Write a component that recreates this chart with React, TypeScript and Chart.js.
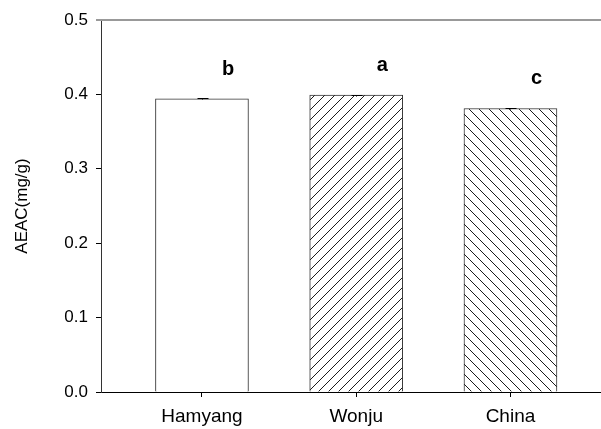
import React, { useEffect, useRef } from 'react';
import { Chart, registerables } from 'chart.js';

Chart.register(...registerables);

const categories = ['Hamyang', 'Wonju', 'China'];
const values = [0.394, 0.399, 0.381];
const errors = [0.0008, 0.0006, 0.0006];
const letters = ['b', 'a', 'c'];
const yTickValues = [0, 0.1, 0.2, 0.3, 0.4, 0.5];
const yTitle = 'AEAC(mg/g)';

const FONT = '"Liberation Sans", Arial, sans-serif';

function makeHatch(ctx: CanvasRenderingContext2D, dir: number): CanvasPattern | string {
  const s = 10;
  const c = document.createElement('canvas');
  c.width = s;
  c.height = s;
  const g = c.getContext('2d');
  if (!g) return '#fff';
  g.fillStyle = '#fff';
  g.fillRect(0, 0, s, s);
  g.strokeStyle = '#1a1a1a';
  g.lineWidth = 1;
  g.beginPath();
  if (dir === 1) {
    g.moveTo(-1, s + 1);
    g.lineTo(s + 1, -1);
    g.moveTo(-1, 1);
    g.lineTo(1, -1);
    g.moveTo(s - 1, s + 1);
    g.lineTo(s + 1, s - 1);
  } else {
    g.moveTo(-1, -1);
    g.lineTo(s + 1, s + 1);
    g.moveTo(s - 1, -1);
    g.lineTo(s + 1, 1);
    g.moveTo(-1, s - 1);
    g.lineTo(1, s + 1);
  }
  g.stroke();
  return ctx.createPattern(c, 'repeat') || '#fff';
}

const overlayPlugin = {
  id: 'overlay',
  afterDatasetsDraw(chart: any) {
    const { ctx, chartArea, scales } = chart;
    const x = scales.x;
    const y = scales.y;
    ctx.save();
    // error bars
    ctx.strokeStyle = '#000';
    ctx.lineWidth = 1;
    values.forEach((v, i) => {
      const px = Math.round(x.getPixelForValue(i + 1)) + 0.5;
      const top = Math.round(y.getPixelForValue(v + errors[i])) + 0.5;
      const bot = Math.round(y.getPixelForValue(v - errors[i])) + 0.5;
      ctx.beginPath();
      ctx.moveTo(px, top);
      ctx.lineTo(px, bot);
      ctx.moveTo(px - 5, top);
      ctx.lineTo(px + 6, top);
      ctx.stroke();
    });
    // significance letters
    ctx.font = 'bold 20px ' + FONT;
    ctx.fillStyle = '#000';
    ctx.textAlign = 'center';
    ctx.textBaseline = 'middle';
    letters.forEach((l, i) => {
      ctx.fillText(l, x.getPixelForValue(i + 1 + 0.17), y.getPixelForValue(values[i] + 0.04));
    });
    // top frame line
    ctx.strokeStyle = '#999';
    ctx.lineWidth = 2;
    ctx.beginPath();
    ctx.moveTo(chartArea.left - 5, chartArea.top);
    ctx.lineTo(chartArea.right, chartArea.top);
    ctx.stroke();
    ctx.restore();
  },
};

export default function App() {
  const ref = useRef<HTMLCanvasElement | null>(null);

  useEffect(() => {
    const canvas = ref.current;
    if (!canvas) return;
    const ctx = canvas.getContext('2d');
    if (!ctx) return;
    const fills = ['#ffffff', makeHatch(ctx, 1), makeHatch(ctx, -1)];

    const chart = new Chart(canvas, {
      type: 'bar',
      data: {
        datasets: [
          {
            data: categories.map((_, i) => ({ x: i + 1, y: values[i] })),
            backgroundColor: fills as any,
            borderColor: '#333',
            borderWidth: 1,
            barThickness: 93,
          },
        ],
      },
      options: {
        animation: false,
        responsive: false,
        maintainAspectRatio: false,
        layout: { padding: { top: 20, right: 0, left: 0, bottom: 0 } },
        plugins: {
          legend: { display: false },
          tooltip: { enabled: false },
        },
        scales: {
          x: {
            type: 'linear',
            offset: false,
            min: 0.3454,
            max: 3.587,
            afterBuildTicks: (s: any) => {
              s.ticks = categories.map((_, i) => ({ value: i + 1 }));
            },
            afterFit: (s: any) => {
              s.height = 37;
            },
            grid: {
              offset: false,
              drawOnChartArea: false,
              drawTicks: true,
              tickLength: 5,
              color: '#000',
              tickColor: '#000',
            },
            border: { display: true, color: '#000', width: 1 },
            ticks: {
              autoSkip: false,
              maxRotation: 0,
              padding: 8,
              color: '#000',
              font: { size: 19, family: FONT },
              callback: (_v: any, i: number) => categories[i],
            },
          },
          y: {
            min: 0,
            max: 0.5,
            afterBuildTicks: (s: any) => {
              s.ticks = yTickValues.map((v) => ({ value: v }));
            },
            afterFit: (s: any) => {
              s.width = 101;
            },
            grid: {
              drawOnChartArea: false,
              drawTicks: true,
              tickLength: 5,
              color: '#000',
              tickColor: '#000',
            },
            border: { display: true, color: '#333', width: 1 },
            ticks: {
              padding: 8,
              color: '#000',
              font: { size: 17, family: FONT },
              callback: (v: any) => Number(v).toFixed(1),
            },
            title: {
              display: true,
              text: yTitle,
              color: '#000',
              font: { size: 17, family: FONT },
              padding: { top: 12, bottom: 0 },
            },
          },
        },
      },
      plugins: [overlayPlugin],
    } as any);

    return () => chart.destroy();
  }, []);

  return (
    <div style={{ position: 'fixed', left: 0, top: 0, width: 601, height: 429, background: '#fff', overflow: 'hidden' }}>
      <canvas ref={ref} width={601} height={429} style={{ display: 'block' }} />
    </div>
  );
}
